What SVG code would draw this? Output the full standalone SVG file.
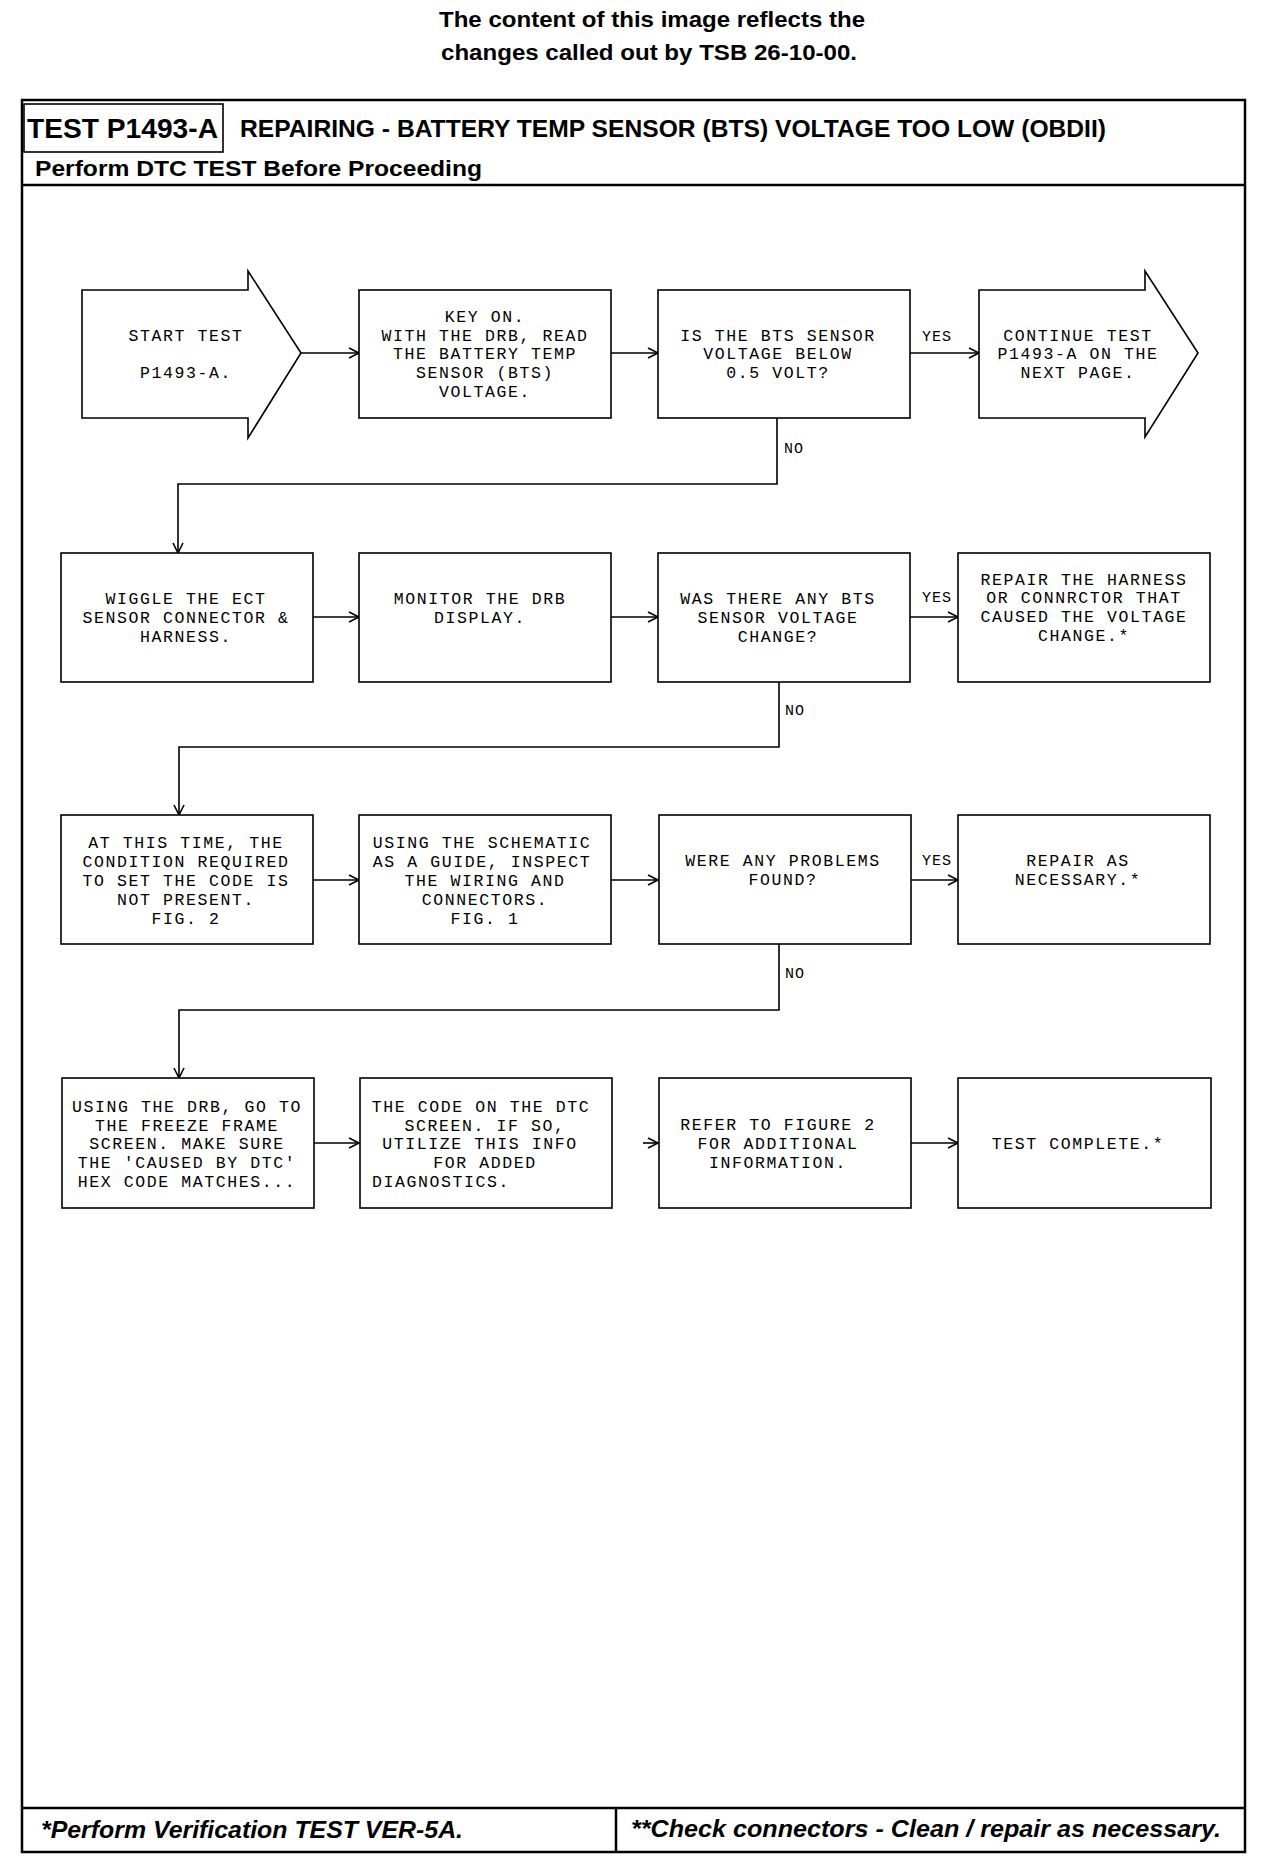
<svg xmlns="http://www.w3.org/2000/svg" width="1280" height="1870" viewBox="0 0 1280 1870">
<style>
.bg{fill:#ffffff}
.frame{fill:none;stroke:#000;stroke-width:2.5}
.box{fill:#ffffff;stroke:#000;stroke-width:1.6}
.conn{fill:none;stroke:#000;stroke-width:1.6}
.hd{font-family:"Liberation Sans",Arial,sans-serif;font-weight:bold;fill:#000}
.ft{font-family:"Liberation Sans",Arial,sans-serif;font-weight:bold;font-style:italic;fill:#000}
.t{font-family:"Liberation Mono","Courier New",monospace;font-size:16.5px;letter-spacing:1.6px;fill:#000;text-anchor:middle}
.ts{font-family:"Liberation Mono","Courier New",monospace;font-size:16.5px;letter-spacing:1.6px;fill:#000;text-anchor:start}
.lbl{font-family:"Liberation Mono","Courier New",monospace;font-size:15px;letter-spacing:1px;fill:#000}
</style>
<defs>
<marker id="arr" markerUnits="userSpaceOnUse" markerWidth="14" markerHeight="14" refX="11" refY="6" orient="auto">
<path d="M1,1 L11,6 L1,11" fill="none" stroke="#000" stroke-width="1.6"/>
</marker>
</defs>
<rect class="bg" x="0" y="0" width="1280" height="1870"/>

<g id="banner">
<text class="hd" x="652" y="27" font-size="22" text-anchor="middle" textLength="426" lengthAdjust="spacingAndGlyphs">The content of this image reflects the</text>
<text class="hd" x="649" y="60" font-size="22" text-anchor="middle" textLength="416" lengthAdjust="spacingAndGlyphs">changes called out by TSB 26-10-00.</text>
</g>

<g id="frame">
<rect class="frame" x="22" y="100" width="1223" height="1752"/>
<rect class="box" x="24" y="104" width="199" height="48"/>
<line class="frame" x1="22" y1="185" x2="1245" y2="185"/>
<line class="frame" x1="22" y1="1808" x2="1245" y2="1808"/>
<line class="frame" x1="616" y1="1808" x2="616" y2="1852"/>
<text class="hd" x="27" y="138" font-size="28" textLength="191" lengthAdjust="spacingAndGlyphs">TEST P1493-A</text>
<text class="hd" x="240" y="137" font-size="23" textLength="866" lengthAdjust="spacingAndGlyphs">REPAIRING - BATTERY TEMP SENSOR (BTS) VOLTAGE TOO LOW (OBDII)</text>
<text class="hd" x="35" y="176" font-size="22" textLength="447" lengthAdjust="spacingAndGlyphs">Perform DTC TEST Before Proceeding</text>
<text class="ft" x="41" y="1838" font-size="24" textLength="422" lengthAdjust="spacingAndGlyphs">*Perform Verification TEST VER-5A.</text>
<text class="ft" x="631" y="1837" font-size="24" textLength="590" lengthAdjust="spacingAndGlyphs">**Check connectors - Clean / repair as necessary.</text>
</g>

<g id="connectors">
<line class="conn" x1="301" y1="353" x2="359" y2="353" marker-end="url(#arr)"/>
<line class="conn" x1="611" y1="353" x2="658" y2="353" marker-end="url(#arr)"/>
<line class="conn" x1="910" y1="353" x2="979" y2="353" marker-end="url(#arr)"/>
<text class="lbl" x="922" y="341">YES</text>
<polyline class="conn" points="777,418 777,484 178,484 178,553" marker-end="url(#arr)"/>
<text class="lbl" x="784" y="453">NO</text>

<line class="conn" x1="313" y1="617" x2="359" y2="617" marker-end="url(#arr)"/>
<line class="conn" x1="611" y1="617" x2="658" y2="617" marker-end="url(#arr)"/>
<line class="conn" x1="910" y1="617" x2="958" y2="617" marker-end="url(#arr)"/>
<text class="lbl" x="922" y="602">YES</text>
<polyline class="conn" points="779,682 779,747 179,747 179,815" marker-end="url(#arr)"/>
<text class="lbl" x="785" y="715">NO</text>

<line class="conn" x1="313" y1="880" x2="359" y2="880" marker-end="url(#arr)"/>
<line class="conn" x1="611" y1="880" x2="658" y2="880" marker-end="url(#arr)"/>
<line class="conn" x1="910" y1="880" x2="958" y2="880" marker-end="url(#arr)"/>
<text class="lbl" x="922" y="865">YES</text>
<polyline class="conn" points="779,944 779,1010 179,1010 179,1078" marker-end="url(#arr)"/>
<text class="lbl" x="785" y="978">NO</text>

<line class="conn" x1="313" y1="1143" x2="359" y2="1143" marker-end="url(#arr)"/>
<line class="conn" x1="643" y1="1143" x2="658" y2="1143" marker-end="url(#arr)"/>
<line class="conn" x1="910" y1="1143" x2="958" y2="1143" marker-end="url(#arr)"/>
</g>

<g id="n-start">
<polygon class="box" points="82,290 248,290 248,271 301,353 248,438 248,418 82,418"/>
<text class="t" x="186" y="341">START TEST</text>
<text class="t" x="186" y="378">P1493-A.</text>
</g>
<g id="n-keyon">
<rect class="box" x="359" y="290" width="252" height="128"/>
<text class="t" x="485" y="322">KEY ON.</text>
<text class="t" x="485" y="341">WITH THE DRB, READ</text>
<text class="t" x="485" y="359">THE BATTERY TEMP</text>
<text class="t" x="485" y="378">SENSOR (BTS)</text>
<text class="t" x="485" y="397">VOLTAGE.</text>
</g>
<g id="n-below">
<rect class="box" x="658" y="290" width="252" height="128"/>
<text class="t" x="778" y="341">IS THE BTS SENSOR</text>
<text class="t" x="778" y="359">VOLTAGE BELOW</text>
<text class="t" x="778" y="378">0.5 VOLT?</text>
</g>
<g id="n-continue">
<polygon class="box" points="979,290 1145,290 1145,271 1198,353 1145,437 1145,418 979,418"/>
<text class="t" x="1078" y="341">CONTINUE TEST</text>
<text class="t" x="1078" y="359">P1493-A ON THE</text>
<text class="t" x="1078" y="378">NEXT PAGE.</text>
</g>

<g id="n-wiggle">
<rect class="box" x="61" y="553" width="252" height="129"/>
<text class="t" x="186" y="604">WIGGLE THE ECT</text>
<text class="t" x="186" y="623">SENSOR CONNECTOR &amp;</text>
<text class="t" x="186" y="642">HARNESS.</text>
</g>
<g id="n-monitor">
<rect class="box" x="359" y="553" width="252" height="129"/>
<text class="t" x="480" y="604">MONITOR THE DRB</text>
<text class="t" x="480" y="623">DISPLAY.</text>
</g>
<g id="n-change">
<rect class="box" x="658" y="553" width="252" height="129"/>
<text class="t" x="778" y="604">WAS THERE ANY BTS</text>
<text class="t" x="778" y="623">SENSOR VOLTAGE</text>
<text class="t" x="778" y="642">CHANGE?</text>
</g>
<g id="n-repair-harness">
<rect class="box" x="958" y="553" width="252" height="129"/>
<text class="t" x="1084" y="585">REPAIR THE HARNESS</text>
<text class="t" x="1084" y="603">OR CONNRCTOR THAT</text>
<text class="t" x="1084" y="622">CAUSED THE VOLTAGE</text>
<text class="t" x="1084" y="641">CHANGE.*</text>
</g>

<g id="n-condition">
<rect class="box" x="61" y="815" width="252" height="129"/>
<text class="t" x="186" y="848">AT THIS TIME, THE</text>
<text class="t" x="186" y="867">CONDITION REQUIRED</text>
<text class="t" x="186" y="886">TO SET THE CODE IS</text>
<text class="t" x="186" y="905">NOT PRESENT.</text>
<text class="t" x="186" y="924">FIG. 2</text>
</g>
<g id="n-schematic">
<rect class="box" x="359" y="815" width="252" height="129"/>
<text class="t" x="482" y="848">USING THE SCHEMATIC</text>
<text class="t" x="482" y="867">AS A GUIDE, INSPECT</text>
<text class="t" x="485" y="886">THE WIRING AND</text>
<text class="t" x="485" y="905">CONNECTORS.</text>
<text class="t" x="485" y="924">FIG. 1</text>
</g>
<g id="n-problems">
<rect class="box" x="659" y="815" width="252" height="129"/>
<text class="t" x="783" y="866">WERE ANY PROBLEMS</text>
<text class="t" x="783" y="885">FOUND?</text>
</g>
<g id="n-repair">
<rect class="box" x="958" y="815" width="252" height="129"/>
<text class="t" x="1078" y="866">REPAIR AS</text>
<text class="t" x="1078" y="885">NECESSARY.*</text>
</g>

<g id="n-freeze">
<rect class="box" x="62" y="1078" width="252" height="130"/>
<text class="t" x="187" y="1112">USING THE DRB, GO TO</text>
<text class="t" x="187" y="1131">THE FREEZE FRAME</text>
<text class="t" x="187" y="1149">SCREEN. MAKE SURE</text>
<text class="t" x="187" y="1168">THE 'CAUSED BY DTC'</text>
<text class="t" x="187" y="1187">HEX CODE MATCHES...</text>
</g>
<g id="n-dtc">
<rect class="box" x="360" y="1078" width="252" height="130"/>
<text class="t" x="481" y="1112">THE CODE ON THE DTC</text>
<text class="t" x="485" y="1131">SCREEN. IF SO,</text>
<text class="t" x="480" y="1149">UTILIZE THIS INFO</text>
<text class="t" x="485" y="1168">FOR ADDED</text>
<text class="ts" x="372" y="1187">DIAGNOSTICS.</text>
</g>
<g id="n-figure">
<rect class="box" x="659" y="1078" width="252" height="130"/>
<text class="t" x="778" y="1130">REFER TO FIGURE 2</text>
<text class="t" x="778" y="1149">FOR ADDITIONAL</text>
<text class="t" x="778" y="1168">INFORMATION.</text>
</g>
<g id="n-complete">
<rect class="box" x="958" y="1078" width="253" height="130"/>
<text class="t" x="1078" y="1149">TEST COMPLETE.*</text>
</g>
</svg>
